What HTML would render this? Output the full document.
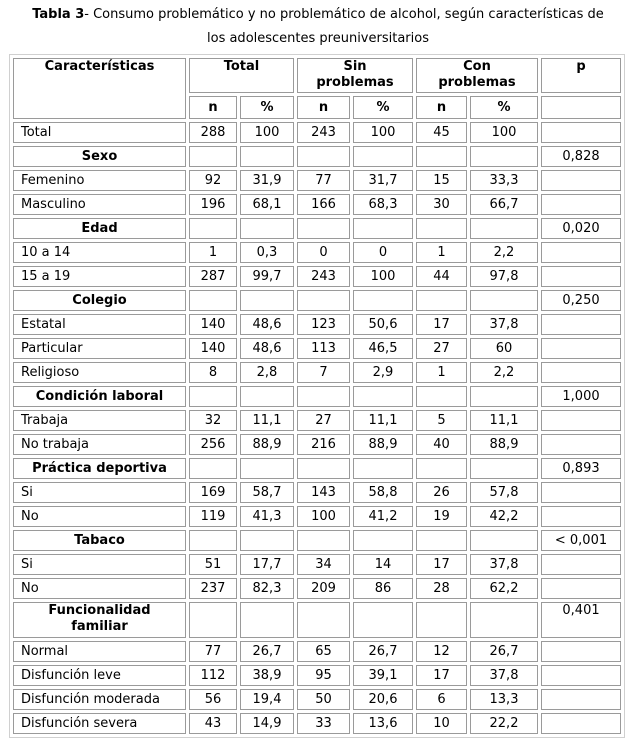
<!DOCTYPE html>
<html><head><meta charset="utf-8"><style>
body{margin:0;width:631px;height:741px;background:#fff;font-family:"DejaVu Sans","Liberation Sans",sans-serif;font-size:13px;color:#000;position:relative;overflow:hidden}
.t{position:absolute;left:0;width:636px;text-align:center;line-height:24px;top:3px}
table{position:absolute;left:9px;top:54px;border:1px solid #d0d0d0;border-spacing:3px;table-layout:fixed;border-collapse:separate}
td{border:1px solid #9a9a9a;padding:0;height:19px;text-align:center;vertical-align:middle;line-height:15px;white-space:nowrap}
td.l{text-align:left;padding-left:7px}
th{border:1px solid #9a9a9a;padding:0;font-weight:bold;vertical-align:top;line-height:16px}
.h{font-weight:bold;text-align:center;padding-left:0}
</style></head><body>
<div class="t"><b>Tabla 3</b>- Consumo problemático y no problemático de alcohol, según características de<br>los adolescentes preuniversitarios</div>
<table>
<colgroup><col style="width:173px"><col style="width:48px"><col style="width:54px"><col style="width:53px"><col style="width:60px"><col style="width:51px"><col style="width:68px"><col style="width:80px"></colgroup>
<tr><th rowspan="2" style="height:56px">Características</th><th colspan="2" style="height:33px">Total</th><th colspan="2">Sin<br>problemas</th><th colspan="2">Con<br>problemas</th><th>p</th></tr>
<tr><th style="vertical-align:middle;height:21px">n</th><th style="vertical-align:middle">%</th><th style="vertical-align:middle">n</th><th style="vertical-align:middle">%</th><th style="vertical-align:middle">n</th><th style="vertical-align:middle">%</th><td></td></tr>
<tr><td class="l">Total</td><td>288</td><td>100</td><td>243</td><td>100</td><td>45</td><td>100</td><td></td></tr>
<tr><td class="h">Sexo</td><td></td><td></td><td></td><td></td><td></td><td></td><td>0,828</td></tr>
<tr><td class="l">Femenino</td><td>92</td><td>31,9</td><td>77</td><td>31,7</td><td>15</td><td>33,3</td><td></td></tr>
<tr><td class="l">Masculino</td><td>196</td><td>68,1</td><td>166</td><td>68,3</td><td>30</td><td>66,7</td><td></td></tr>
<tr><td class="h">Edad</td><td></td><td></td><td></td><td></td><td></td><td></td><td>0,020</td></tr>
<tr><td class="l">10 a 14</td><td>1</td><td>0,3</td><td>0</td><td>0</td><td>1</td><td>2,2</td><td></td></tr>
<tr><td class="l">15 a 19</td><td>287</td><td>99,7</td><td>243</td><td>100</td><td>44</td><td>97,8</td><td></td></tr>
<tr><td class="h">Colegio</td><td></td><td></td><td></td><td></td><td></td><td></td><td>0,250</td></tr>
<tr><td class="l">Estatal</td><td>140</td><td>48,6</td><td>123</td><td>50,6</td><td>17</td><td>37,8</td><td></td></tr>
<tr><td class="l">Particular</td><td>140</td><td>48,6</td><td>113</td><td>46,5</td><td>27</td><td>60</td><td></td></tr>
<tr><td class="l">Religioso</td><td>8</td><td>2,8</td><td>7</td><td>2,9</td><td>1</td><td>2,2</td><td></td></tr>
<tr><td class="h">Condición laboral</td><td></td><td></td><td></td><td></td><td></td><td></td><td>1,000</td></tr>
<tr><td class="l">Trabaja</td><td>32</td><td>11,1</td><td>27</td><td>11,1</td><td>5</td><td>11,1</td><td></td></tr>
<tr><td class="l">No trabaja</td><td>256</td><td>88,9</td><td>216</td><td>88,9</td><td>40</td><td>88,9</td><td></td></tr>
<tr><td class="h">Práctica deportiva</td><td></td><td></td><td></td><td></td><td></td><td></td><td>0,893</td></tr>
<tr><td class="l">Si</td><td>169</td><td>58,7</td><td>143</td><td>58,8</td><td>26</td><td>57,8</td><td></td></tr>
<tr><td class="l">No</td><td>119</td><td>41,3</td><td>100</td><td>41,2</td><td>19</td><td>42,2</td><td></td></tr>
<tr><td class="h">Tabaco</td><td></td><td></td><td></td><td></td><td></td><td></td><td>&lt; 0,001</td></tr>
<tr><td class="l">Si</td><td>51</td><td>17,7</td><td>34</td><td>14</td><td>17</td><td>37,8</td><td></td></tr>
<tr><td class="l">No</td><td>237</td><td>82,3</td><td>209</td><td>86</td><td>28</td><td>62,2</td><td></td></tr>
<tr><td class="h" style="height:34px;vertical-align:top;line-height:16px">Funcionalidad<br>familiar</td><td></td><td></td><td></td><td></td><td></td><td></td><td style="vertical-align:top">0,401</td></tr>
<tr><td class="l">Normal</td><td>77</td><td>26,7</td><td>65</td><td>26,7</td><td>12</td><td>26,7</td><td></td></tr>
<tr><td class="l">Disfunción leve</td><td>112</td><td>38,9</td><td>95</td><td>39,1</td><td>17</td><td>37,8</td><td></td></tr>
<tr><td class="l">Disfunción moderada</td><td>56</td><td>19,4</td><td>50</td><td>20,6</td><td>6</td><td>13,3</td><td></td></tr>
<tr><td class="l">Disfunción severa</td><td>43</td><td>14,9</td><td>33</td><td>13,6</td><td>10</td><td>22,2</td><td></td></tr>
</table>
</body></html>
